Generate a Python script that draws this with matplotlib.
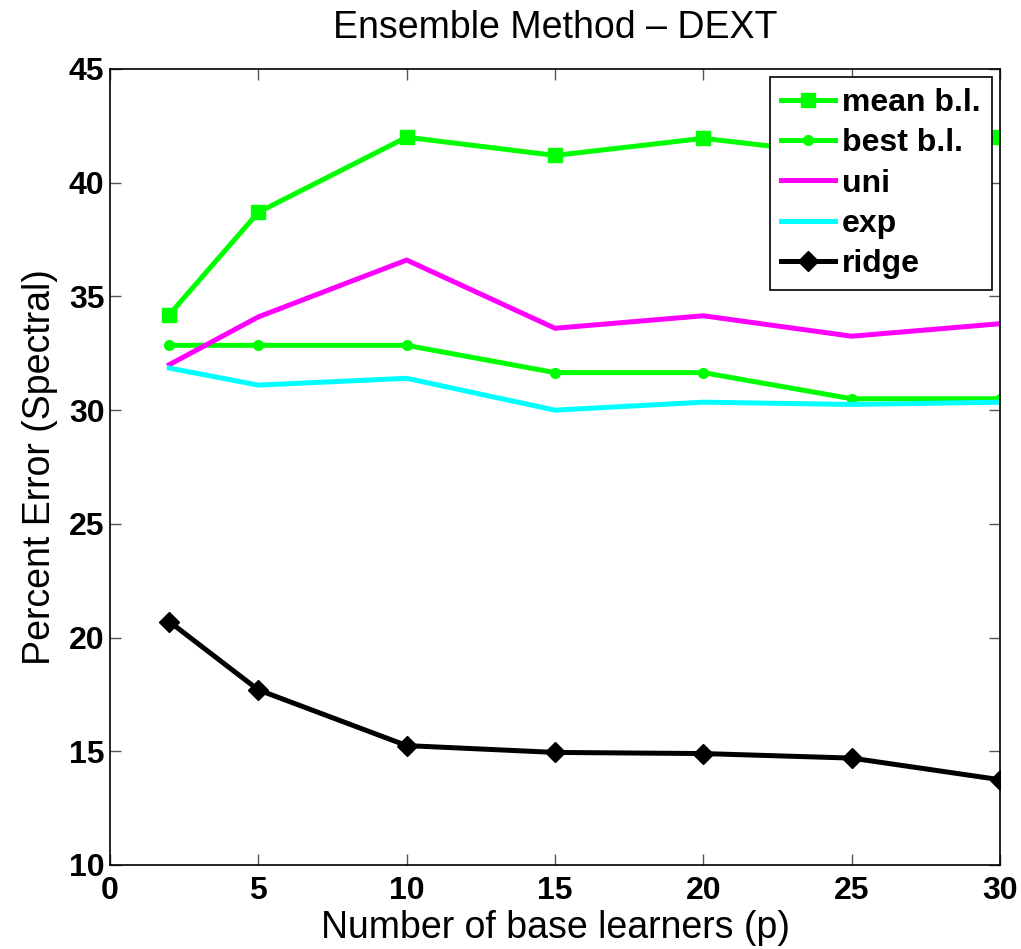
import numpy as np
import matplotlib
matplotlib.use("Agg")
import matplotlib.pyplot as plt

plt.rcParams['font.family'] = ['Liberation Sans', 'DejaVu Sans']

# data
p = [2, 5, 10, 15, 20, 25, 30]
mean_bl = [34.2, 38.7, 42.0, 41.2, 41.95, 41.2, 42.0]
best_bl = [32.85, 32.85, 32.85, 31.65, 31.65, 30.5, 30.5]
uni = [32.0, 34.1, 36.6, 33.6, 34.15, 33.25, 33.8]
exp_ = [31.85, 31.1, 31.4, 30.0, 30.35, 30.25, 30.35]
ridge = [20.7, 17.7, 15.25, 14.95, 14.9, 14.7, 13.75]

green = '#00ff00'

fig = plt.figure(figsize=(10.21, 9.49), dpi=100)
ax = fig.add_axes([110/1021, 1 - 865/949, 890/1021, 796/949])

ax.plot(p, mean_bl, '-s', color=green, lw=3.6, ms=10, label='mean b.l.')
ax.plot(p, best_bl, '-o', color=green, lw=3.6, ms=7, label='best b.l.')
ax.plot(p, uni, '-', color='#ff00ff', lw=3.6, label='uni')
ax.plot(p, exp_, '-', color='#00ffff', lw=3.6, label='exp')
ax.plot(p, ridge, '-D', color='black', lw=3.6, ms=10, label='ridge')

ax.set_xlim(0, 30)
ax.set_ylim(10, 45)
ax.set_xticks(np.arange(0, 31, 5))
ax.set_yticks(np.arange(10, 46, 5))
ax.tick_params(direction='in', length=8, width=1, labelsize=23, top=True, right=True, color='#555555')
ax.tick_params(axis='x', pad=8)
ax.tick_params(axis='y', pad=4)
for lbl in ax.get_xticklabels() + ax.get_yticklabels():
    lbl.set_fontweight('bold')
for s in ax.spines.values():
    s.set_linewidth(1.2)

ax.set_xlabel('Number of base learners (p)', fontsize=27, labelpad=3)
ax.set_ylabel('Percent Error (Spectral)', fontsize=27, labelpad=8)
ax.set_title('Ensemble Method \u2013 DEXT', fontsize=27, pad=22)

leg = ax.legend(loc='upper right', prop={'weight': 'bold', 'size': 23},
                handlelength=1.7, handletextpad=0.22, borderaxespad=0.25,
                borderpad=0.35, labelspacing=0.32, fancybox=False,
                edgecolor='black', framealpha=1)
leg.get_frame().set_linewidth(1.2)

fig.savefig('out.png', dpi=100)
